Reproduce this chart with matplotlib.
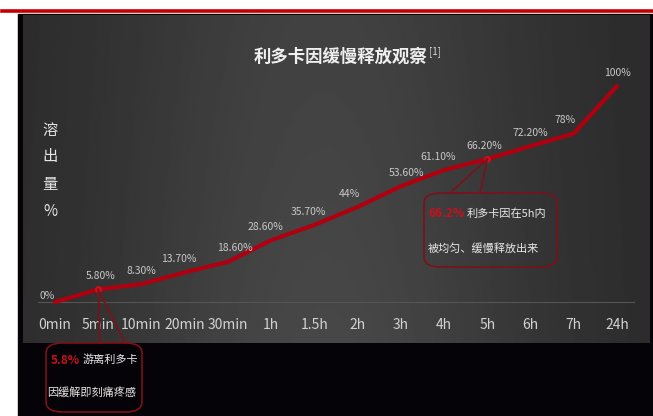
import numpy as np
import matplotlib
matplotlib.use("Agg")
import matplotlib.pyplot as plt
from matplotlib.patches import Rectangle, FancyBboxPatch
from matplotlib.lines import Line2D

plt.rcParams['font.family'] = ['Noto Sans CJK SC', 'DejaVu Sans']

# data
time_labels = ["0min", "5min", "10min", "20min", "30min", "1h", "1.5h",
               "2h", "3h", "4h", "5h", "6h", "7h", "24h"]
release = [0, 5.8, 8.3, 13.7, 18.6, 28.6, 35.7, 44, 53.6, 61.1, 66.2, 72.2, 78, 100]
value_labels = ["0%", "5.80%", "8.30%", "13.70%", "18.60%", "28.60%", "35.70%",
                "44%", "53.60%", "61.10%", "66.20%", "72.20%", "78%", "100%"]
# small nudges of each value label (points) so they sit like the original
label_dx = [-6, 2, 0, -4, 5, -4, -4, -6, 4, -4, -2, 0, -6, 0]

W, H = 653, 416
fig = plt.figure(figsize=(W / 100, H / 100), dpi=100)
fig.patch.set_facecolor("white")


def px(x, y):
    '''pixel position (top-left origin) to figure fraction'''
    return x / W, 1 - y / H


# red rule at the top and the black frame
fig.add_artist(Line2D([2 / W, 1], [1 - 11 / H, 1 - 11 / H], color="#c40000", lw=2.6))
fig.add_artist(Rectangle(px(18, 416), (W - 18) / W, (416 - 14) / H,
                         transform=fig.transFigure, color="#050307", zorder=0))

# main panel
left, top, right, bottom = 23, 15, 650, 343
ax = fig.add_axes([left / W, 1 - bottom / H, (right - left) / W, (bottom - top) / H])
x = np.arange(len(time_labels))
step_x = (617 - 55) / 13
step_y = (302 - 86) / 100
ax.set_xlim((left - 55) / step_x, (right - 55) / step_x)
ax.set_ylim((302 - bottom) / step_y, (302 - top) / step_y)
ax.axis("off")

# gradient background, lighter in the middle
gx = np.linspace(0, 1, 300)
gy = np.linspace(0, 1, 200)
GX, GY = np.meshgrid(gx, gy)
shade = 0.16 + 0.12 * np.exp(-((GX - 0.48) / 0.36) ** 2) * (1 - 0.2 * GY)
ax.imshow(shade, cmap="gray", vmin=0, vmax=1, extent=[0, 1, 1, 0],
          transform=ax.transAxes, aspect="auto", zorder=0)

# baseline
ax.plot([-0.4, 13.4], [0, 0], color="#555555", lw=0.8, zorder=1)

# release curve
ax.plot(x, release, color="#b0000f", lw=3, solid_capstyle="round", zorder=3)
ax.plot(x[[1, 10]], [release[1], release[10]], "o", color="#d0101c", ms=4, zorder=4)

for i, (v, lab) in enumerate(zip(release, value_labels)):
    dy = 1 if i == 0 else 6
    ax.annotate(lab, (i, v), xytext=(label_dx[i], dy), textcoords="offset points",
                ha="center", va="bottom", fontsize=7.5, color="#c8c8c8", zorder=5)

for i, lab in enumerate(time_labels):
    ax.text(i, -10.6, lab, ha="center", va="center", fontsize=10, color="#d2d2d2")

# title
ax.text(*px(341, 57), "利多卡因缓慢释放观察", transform=fig.transFigure,
        ha="center", va="center", fontsize=12.5, fontweight="bold", color="#f0f0f0")
ax.text(*px(429, 52), "[1]", transform=fig.transFigure,
        ha="left", va="center", fontsize=7, color="#d8d8d8")

# y label written top to bottom
for ch, yy in zip(["溶", "出", "量", "%"], [130, 157, 184, 211]):
    ax.text(*px(50, yy), ch, transform=fig.transFigure, ha="center", va="center",
            fontsize=11, color="#e6e6e6")

# callout boxes
box_col = "#7d1018"


def callout(x0, y0, x1, y1, feet, point):
    box = FancyBboxPatch(px(x0, y1), (x1 - x0) / W, (y1 - y0) / H,
                         boxstyle="round,pad=0,rounding_size=0.025",
                         transform=fig.transFigure, fill=False,
                         edgecolor=box_col, lw=1.2, zorder=6)
    fig.add_artist(box)
    p = fig.transFigure.inverted().transform(ax.transData.transform(point))
    for fx in feet:
        fig.add_artist(Line2D([p[0], fx / W], [p[1], 1 - y0 / H],
                              color=box_col, lw=1.2, zorder=6))


callout(46, 343, 142, 412, [100, 125], (1, release[1]))
callout(424, 193, 557, 267, [450, 480], (10, release[10]))

fig.text(*px(51, 360), "5.8%", ha="left", va="center", fontsize=8.5,
         fontweight="bold", color="#c8101c")
fig.text(*px(83, 360), "游离利多卡", ha="left", va="center", fontsize=8, color="#e8e8e8")
fig.text(*px(47, 393), "因缓解即刻痛疼感", ha="left", va="center", fontsize=8, color="#e8e8e8")

fig.text(*px(428, 214), "66.2%", ha="left", va="center", fontsize=8.5,
         fontweight="bold", color="#c8101c")
fig.text(*px(467, 214), "利多卡因在5h内", ha="left", va="center", fontsize=8, color="#e8e8e8")
fig.text(*px(428, 248), "被均匀、缓慢释放出来", ha="left", va="center", fontsize=8, color="#e8e8e8")

fig.savefig("out.png", dpi=100)
